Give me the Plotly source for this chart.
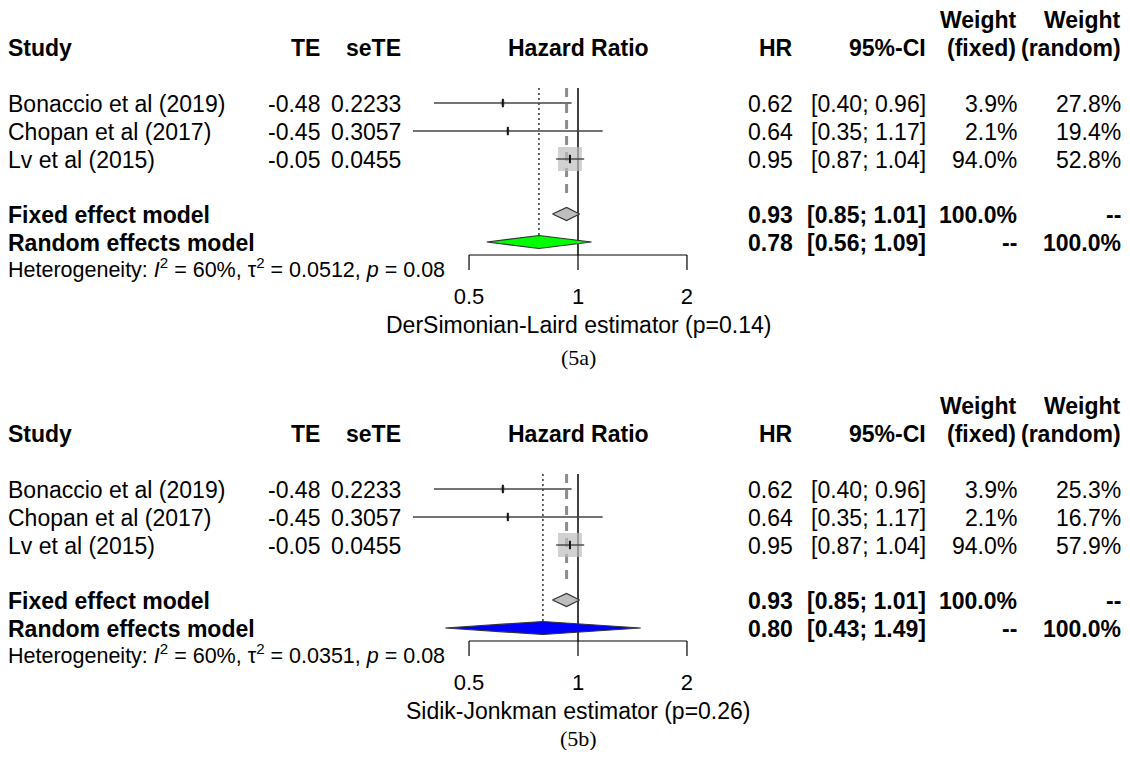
import math
import plotly.graph_objects as go

# ---------------- data ----------------
studies = ["Bonaccio et al (2019)", "Chopan et al (2017)", "Lv et al (2015)"]
te = [-0.48, -0.45, -0.05]
se_te = [0.2233, 0.3057, 0.0455]
hr = [0.62, 0.64, 0.95]
ci_lower = [0.40, 0.35, 0.87]
ci_upper = [0.96, 1.17, 1.04]
weight_fixed = [3.9, 2.1, 94.0]
weight_total = 100.0

fixed_hr = 0.93
fixed_lower = 0.85
fixed_upper = 1.01

random_hr = [0.78, 0.80]
random_lower = [0.56, 0.43]
random_upper = [1.09, 1.49]
weight_random = [[27.8, 19.4, 52.8], [25.3, 16.7, 57.9]]
tau2 = [0.0512, 0.0351]
i2 = [60, 60]
het_p = [0.08, 0.08]
estimator_names = ["DerSimonian-Laird estimator", "Sidik-Jonkman estimator"]
estimator_p = [0.14, 0.26]
captions = ["(5a)", "(5b)"]
random_colors = ["#00FF00", "#0000FF"]

tick_values = [0.5, 1, 2]
tick_labels = ["0.5", "1", "2"]

# ---------------- layout constants ----------------
W, H = 1130, 758      # browser window
OFF = 8               # default page body margin
FW, FH = W - 2 * OFF, H - 2 * OFF
X1 = 578              # screen pixel of HR = 1
K = 362               # pixels per log10 unit
PXL, PXR = 380, 780
PANEL_OFFSET = [0, 386]
CAPTION_Y = [357, 738]
FONT = "Liberation Sans, Arial, sans-serif"
FS = 23
SQ_SCALE = 24.0 / math.sqrt(94.0)

fig = go.Figure()
ann = []


def px(v):
    return (v - OFF) / FW


def text(x, y, s, anchor="left", size=FS, bold=False, family=FONT):
    if bold:
        s = "<b>" + s + "</b>"
    ann.append(dict(x=px(x), y=y, xref="paper", yref="y", text=s, showarrow=False,
                    xanchor=anchor, yanchor="middle", borderpad=0, borderwidth=0,
                    font=dict(family=family, size=size, color="#000000")))


def line(xs, ys, color="#000000", width=1.2, dash="solid"):
    fig.add_trace(go.Scatter(x=xs, y=ys, mode="lines", hoverinfo="skip",
                             line=dict(color=color, width=width, dash=dash),
                             showlegend=False))


for p in range(2):
    o = PANEL_OFFSET[p]
    y_head_w = 20 + o
    y_head = 48 + o
    y_rows = [103 + 28 * i + o for i in range(len(studies))]
    y_fixed = 214 + o
    y_random = 242 + o
    y_het = 268 + o
    y_axis = 255 + o
    y_top = 88 + o

    # headers
    text(8, y_head, "Study", bold=True)
    text(320, y_head, "TE", "right", bold=True)
    text(401, y_head, "seTE", "right", bold=True)
    text(X1, y_head, "Hazard Ratio", "center", bold=True)
    text(793, y_head, "HR", "right", bold=True)
    text(926, y_head, "95%-CI", "right", bold=True)
    text(1017, y_head_w, "Weight", "right", bold=True)
    text(1121, y_head_w, "Weight", "right", bold=True)
    text(1016, y_head, "(fixed)", "right", bold=True)
    text(1121, y_head, "(random)", "right", bold=True)

    # study rows
    for i, name in enumerate(studies):
        yt = y_rows[i] + 1
        text(8, yt, name)
        text(320, yt, f"{te[i]:.2f}", "right")
        text(401, yt, f"{se_te[i]:.4f}", "right")
        text(793, yt, f"{hr[i]:.2f}", "right")
        text(926, yt, f"[{ci_lower[i]:.2f}; {ci_upper[i]:.2f}]", "right")
        text(1017, yt, f"{weight_fixed[i]:.1f}%", "right")
        text(1121, yt, f"{weight_random[p][i]:.1f}%", "right")

    # pooled rows
    text(8, y_fixed + 1, "Fixed effect model", bold=True)
    text(793, y_fixed + 1, f"{fixed_hr:.2f}", "right", bold=True)
    text(926, y_fixed + 1, f"[{fixed_lower:.2f}; {fixed_upper:.2f}]", "right", bold=True)
    text(1017, y_fixed + 1, f"{weight_total:.1f}%", "right", bold=True)
    text(1121, y_fixed + 1, "--", "right", bold=True)

    text(8, y_random + 1, "Random effects model", bold=True)
    text(793, y_random + 1, f"{random_hr[p]:.2f}", "right", bold=True)
    text(926, y_random + 1, f"[{random_lower[p]:.2f}; {random_upper[p]:.2f}]", "right", bold=True)
    text(1017, y_random + 1, "--", "right", bold=True)
    text(1121, y_random + 1, f"{weight_total:.1f}%", "right", bold=True)

    text(8, y_het,
         f"Heterogeneity: <i>I</i><sup>2</sup> = {i2[p]}%, τ<sup>2</sup> = {tau2[p]:.4f}, <i>p</i> = {het_p[p]:.2f}",
         size=21.5)

    # reference lines
    line([1, 1], [y_top, y_axis], "#000000", 1.5)
    line([fixed_hr, fixed_hr], [y_top, y_fixed - 14], "#8c8c8c", 3, "9px,7px")
    line([random_hr[p], random_hr[p]], [y_top, y_random], "#111111", 1.3, "2px,3px")

    # study squares, CI lines, point ticks
    fig.add_trace(go.Scatter(
        x=hr, y=y_rows, mode="markers", hoverinfo="skip", showlegend=False,
        marker=dict(symbol="square", color="#bdbdbd",
                    size=[SQ_SCALE * math.sqrt(w) for w in weight_fixed],
                    line=dict(width=0))))
    for i in range(len(studies)):
        line([ci_lower[i], ci_upper[i]], [y_rows[i], y_rows[i]], "#444444", 1.4)
    fig.add_trace(go.Scatter(
        x=hr, y=y_rows, mode="markers", hoverinfo="skip", showlegend=False,
        marker=dict(symbol="line-ns", size=6, line=dict(color="#111111", width=2))))

    # diamonds
    dh = 6.5
    fig.add_trace(go.Scatter(
        x=[fixed_lower, fixed_hr, fixed_upper, fixed_hr, fixed_lower],
        y=[y_fixed, y_fixed - dh, y_fixed, y_fixed + dh, y_fixed],
        mode="lines", fill="toself", fillcolor="#bebebe", hoverinfo="skip",
        line=dict(color="#333333", width=1.2), showlegend=False))
    fig.add_trace(go.Scatter(
        x=[random_lower[p], random_hr[p], random_upper[p], random_hr[p], random_lower[p]],
        y=[y_random, y_random - dh, y_random, y_random + dh, y_random],
        mode="lines", fill="toself", fillcolor=random_colors[p], hoverinfo="skip",
        line=dict(color="#333333", width=1.2), showlegend=False))

    # x axis (drawn)
    line([tick_values[0], tick_values[-1]], [y_axis, y_axis], "#000000", 1.2)
    for tv in tick_values:
        line([tv, tv], [y_axis, y_axis + 15], "#000000", 1.2)
    fig.add_trace(go.Scatter(
        x=tick_values, y=[298 + o] * len(tick_values), mode="text", text=tick_labels,
        textposition="middle center", hoverinfo="skip", showlegend=False,
        cliponaxis=False, textfont=dict(family=FONT, size=22, color="#000000")))

    text(X1, 325 + o, f"{estimator_names[p]} (p={estimator_p[p]:.2f})", "center")
    text(X1, CAPTION_Y[p], captions[p], "center", size=22,
         family="Liberation Serif, Times New Roman, serif")

lo_r = (PXL - X1) / K
hi_r = (PXR - X1) / K
fig.update_layout(
    width=FW, height=FH,
    margin=dict(l=0, r=0, t=0, b=0),
    paper_bgcolor="#ffffff", plot_bgcolor="#ffffff",
    xaxis=dict(type="log", range=[lo_r, hi_r],
               domain=[(PXL - OFF) / FW, (PXR - OFF) / FW],
               visible=False, fixedrange=True),
    yaxis=dict(range=[H - OFF, OFF], domain=[0, 1], visible=False, fixedrange=True),
    annotations=ann,
    showlegend=False,
)

fig.write_html("out.html")
